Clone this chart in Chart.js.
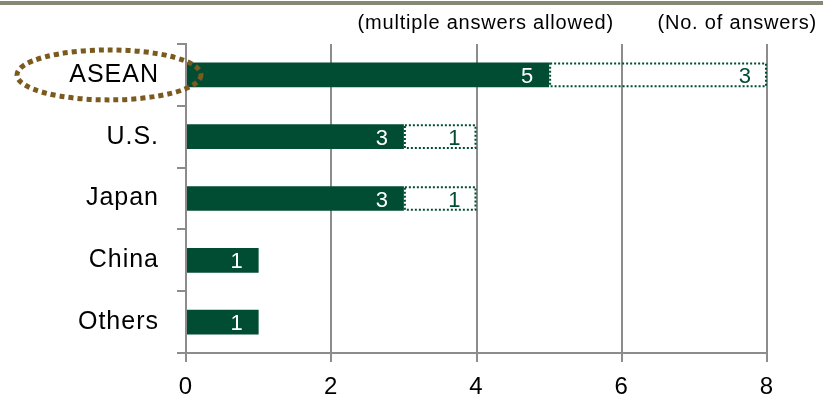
<!DOCTYPE html>
<html lang="en">
<head>
    <meta charset="UTF-8">
    <script src="https://cdn.jsdelivr.net/npm/chart.js"></script>
    <title>Destinations</title>
    <style>
        body { margin: 0; background: #fff; }
        .wrap { position: relative; width: 823px; height: 403px; }
        /* thin band along the top edge */
        .topline { position: absolute; left: 0; top: 1px; width: 823px; height: 4px; background: #858975; }
        canvas { display: block; }
    </style>
</head>
<body>
    <div class="wrap">
        <div class="topline"></div>
        <canvas id="answersChart" width="823" height="403"></canvas>
    </div>

    <script>
        // Answers per region
        const regions = ['ASEAN', 'U.S.', 'Japan', 'China', 'Others'];
        const mainAnswers = [5, 3, 3, 1, 1];
        const extraAnswers = [3, 1, 1, 0, 0];
        const xTicks = [0, 2, 4, 6, 8];

        const green = '#004d33';
        const axisGray = '#8c8c8c';
        const font = '"Liberation Sans", Arial, sans-serif';

        // dotted outline for the second series + value labels + notes + circle
        const overlay = {
            id: 'overlay',
            beforeLayout(chart) { chart.ctx.letterSpacing = '1px'; },
            beforeDraw(chart) { chart.ctx.letterSpacing = '1px'; },
            afterDatasetsDraw(chart) {
                const ctx = chart.ctx;
                ctx.save();
                ctx.letterSpacing = '0px';

                // dotted boxes
                chart.getDatasetMeta(1).data.forEach((bar, i) => {
                    if (!extraAnswers[i]) return;
                    const p = bar.getProps(['x', 'y', 'base', 'height'], true);
                    ctx.strokeStyle = green;
                    ctx.lineWidth = 2;
                    ctx.setLineDash([2, 2]);
                    ctx.strokeRect(p.base + 1, p.y - p.height / 2 + 1, p.x - p.base - 2, p.height - 2);
                });
                ctx.setLineDash([]);

                // values at the end of each bar
                ctx.font = '22px ' + font;
                ctx.textAlign = 'right';
                ctx.textBaseline = 'middle';
                [mainAnswers, extraAnswers].forEach((vals, d) => {
                    ctx.fillStyle = d === 0 ? '#ffffff' : green;
                    chart.getDatasetMeta(d).data.forEach((bar, i) => {
                        if (!vals[i]) return;
                        const p = bar.getProps(['x', 'y'], true);
                        ctx.fillText(String(vals[i]), p.x - 16, p.y + 2);
                    });
                });

                // notes above the plot
                ctx.fillStyle = '#000';
                ctx.font = '20px ' + font;
                ctx.letterSpacing = '0.8px';
                ctx.textAlign = 'right';
                ctx.fillText('(multiple answers allowed)', 614, 23);
                ctx.fillText('(No. of answers)', 817, 23);

                // highlight ring round the first category
                const yScale = chart.scales.y;
                const cy = yScale.getPixelForValue(0);
                const cx = chart.chartArea.left - 77;
                ctx.beginPath();
                ctx.ellipse(cx, cy, 92, 25, 0, 0, Math.PI * 2);
                ctx.strokeStyle = '#7b5a1e';
                ctx.lineWidth = 5;
                ctx.setLineDash([5, 4]);
                ctx.stroke();
                ctx.restore();
            }
        };

        const ctx = document.getElementById('answersChart').getContext('2d');
        const chart = new Chart(ctx, {
            type: 'bar',
            data: {
                labels: regions,
                datasets: [{
                    data: mainAnswers,
                    backgroundColor: green,
                    borderWidth: 0
                }, {
                    data: extraAnswers,
                    backgroundColor: 'rgba(0,0,0,0)',
                    borderWidth: 0
                }]
            },
            options: {
                indexAxis: 'y',
                responsive: false,
                animation: false,
                categoryPercentage: 1,
                barPercentage: 0.4,
                layout: { padding: { top: 44, right: 56, left: 0, bottom: 0 } },
                plugins: { legend: { display: false }, tooltip: { enabled: false } },
                scales: {
                    x: {
                        stacked: true,
                        min: 0,
                        max: 8,
                        afterBuildTicks(scale) { scale.ticks = xTicks.map(v => ({ value: v })); },
                        afterFit(scale) { scale.height = 50; },
                        grid: { color: axisGray, lineWidth: 2, tickLength: 9 },
                        border: { color: axisGray, width: 2 },
                        ticks: { color: '#000', padding: 11, font: { family: font, size: 24 } }
                    },
                    y: {
                        stacked: true,
                        afterFit(scale) { scale.width = 186; },
                        grid: { drawOnChartArea: false, offset: true, color: axisGray, lineWidth: 2, tickLength: 9 },
                        border: { color: axisGray, width: 2 },
                        ticks: { color: '#000', padding: 18, font: { family: font, size: 25 } }
                    }
                }
            },
            plugins: [overlay]
        });
    </script>
</body>
</html>
